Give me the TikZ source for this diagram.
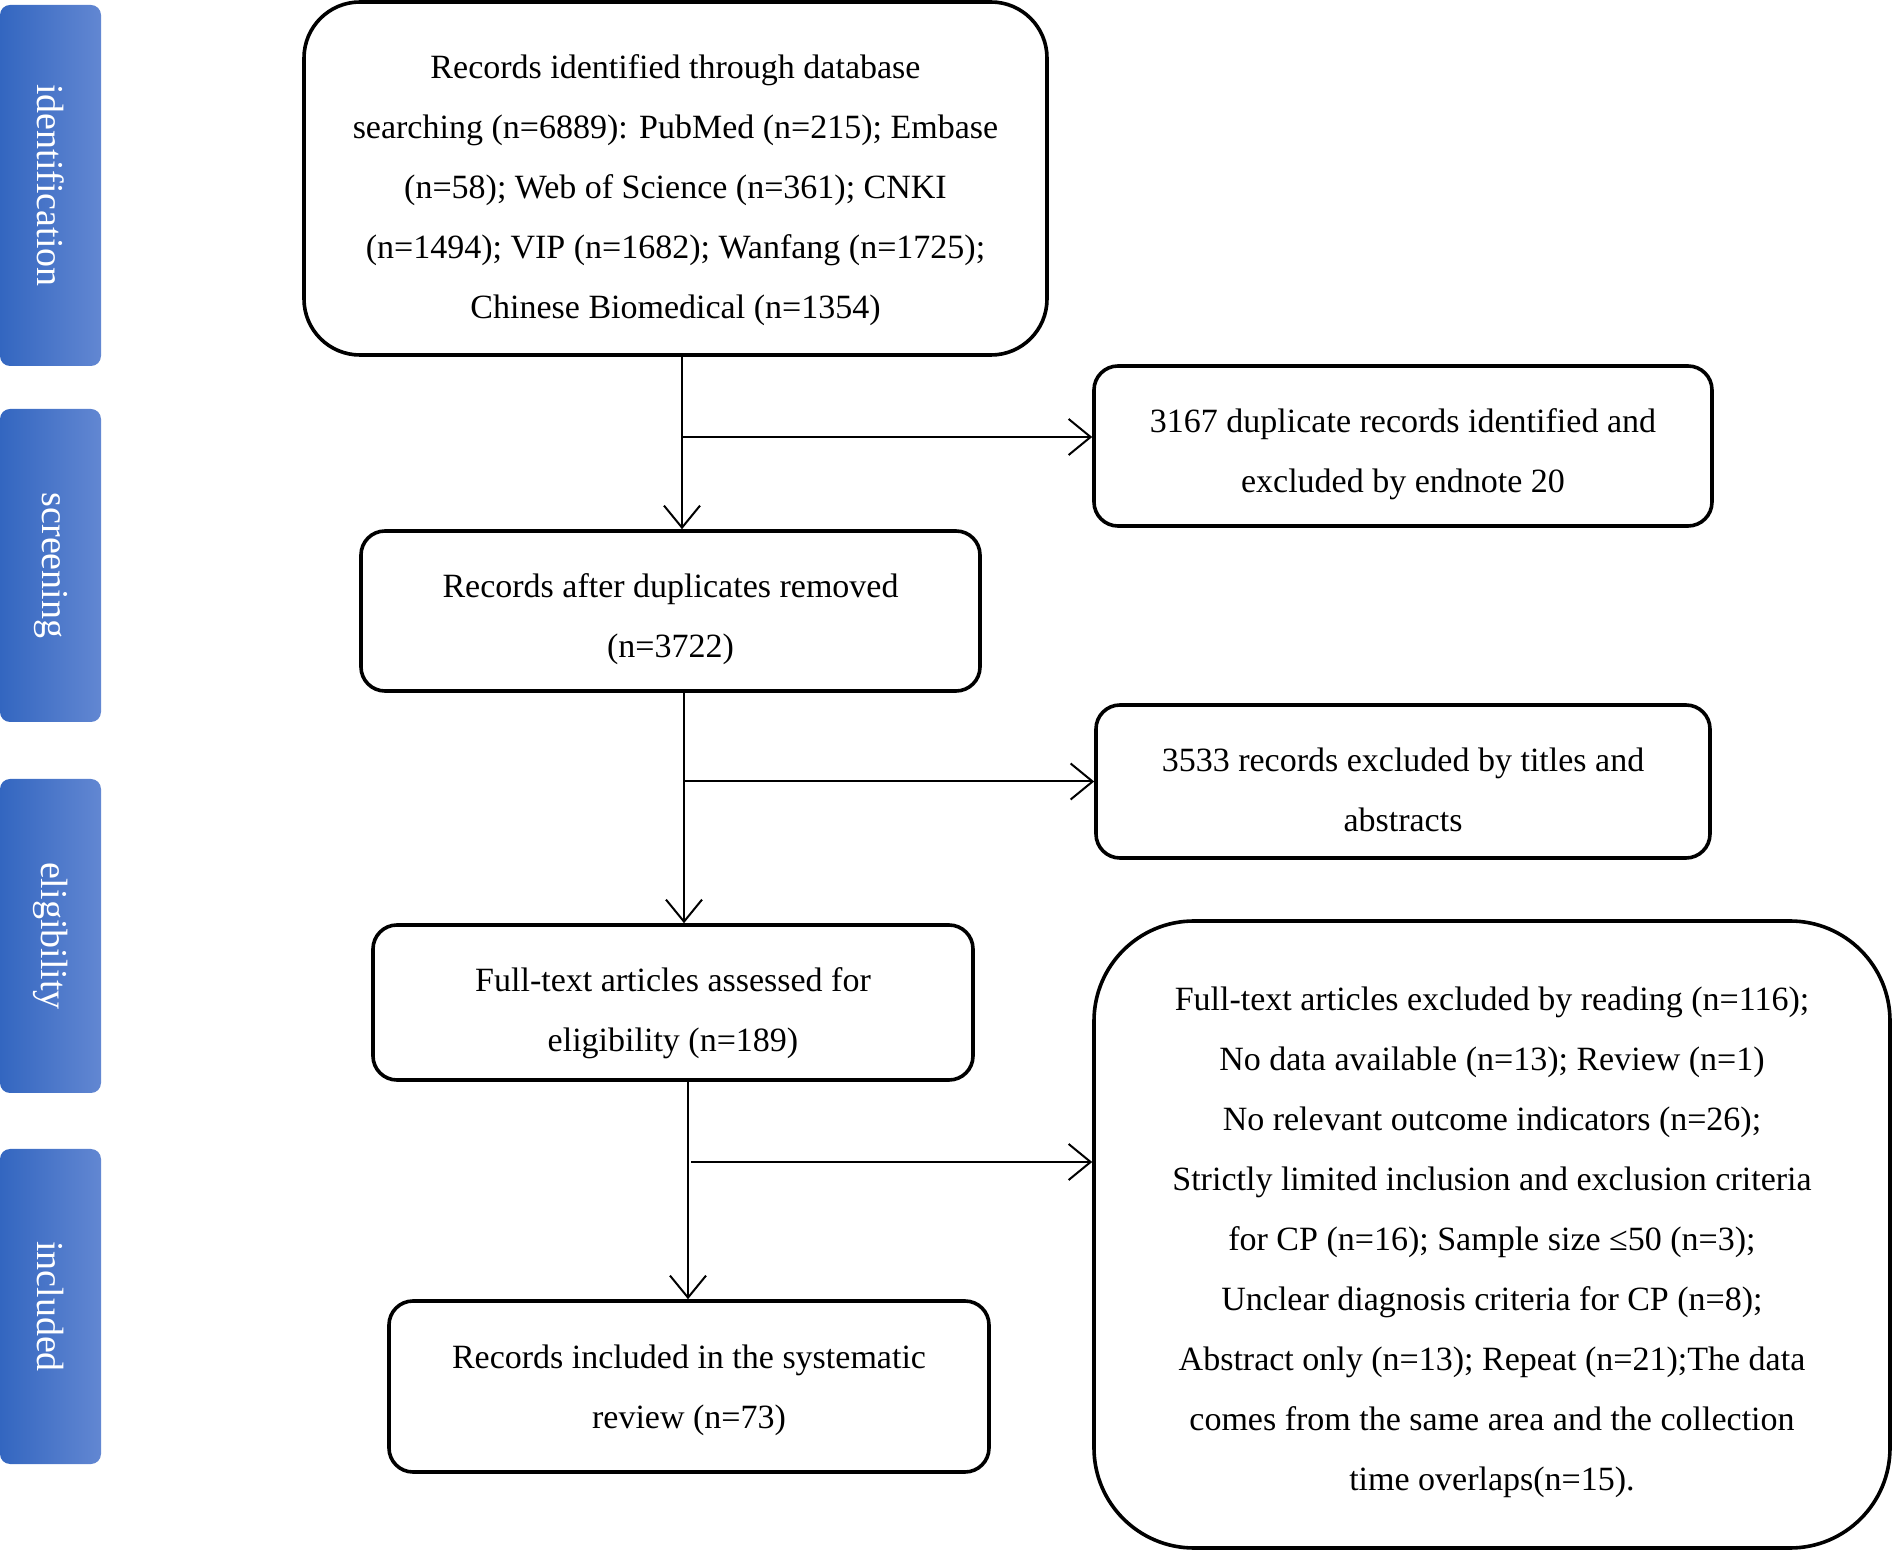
\documentclass[tikz,border=0pt]{standalone}
\usepackage{fontspec}
\setmainfont{Liberation Serif}
\usetikzlibrary{positioning,arrows.meta,calc}
\definecolor{tabl}{HTML}{3366C0}
\definecolor{tabr}{HTML}{6287D2}
\tikzset{my node/.style={draw,line width=1.8pt,rounded corners=#1,align=center,inner sep=0pt,text depth=0pt,font=\fontsize{17}{30}\selectfont},
my node/.default=12pt,
my tab/.style={rounded corners=5pt,left color=tabl,right color=tabr,text=white,inner sep=0pt,minimum width=50.5pt,minimum height=#1,font=\fontsize{19}{22}\selectfont},
my arrow/.style={-{Straight Barb[length=11pt,width=18pt,line width=1pt]},line width=1pt}}

\begin{document}
\begin{tikzpicture}[x=0.5pt,y=-0.5pt]
\useasboundingbox (0,0) rectangle (1892,1550);
% stage tabs
\node[my tab=180.5pt] (identification) at (50.5,185.5) {\rotatebox{-90}{identification}};
\node[my tab=156.5pt] (screening) at (50.5,565.5) {\rotatebox{-90}{screening}};
\node[my tab=157pt] (eligibility) at (50.5,936) {\rotatebox{-90}{eligibility}};
\node[my tab=157.5pt] (included) at (50.5,1306.5) {\rotatebox{-90}{included}};
% main column
\node[my node=28pt,text height=140.4pt,minimum width=371.5pt,minimum height=176.5pt] (search) at (675.5,178.5) {Records identified through database\\ searching (n=6889): PubMed (n=215); Embase\\ (n=58); Web of Science (n=361); CNKI\\ (n=1494); VIP (n=1682); Wanfang (n=1725);\\ Chinese Biomedical (n=1354)};
\node[my node,text height=46.8pt,minimum width=309.5pt,minimum height=80pt] (after) at (670.5,611) {Records after duplicates removed\\ (n=3722)};
\node[my node,text height=49.2pt,minimum width=300pt,minimum height=77.5pt] (fulltext) at (673,1002.5) {Full-text articles assessed for\\ eligibility (n=189)};
\node[my node,minimum width=300pt,minimum height=85.5pt] (review) at (689,1386.5) {Records included in the systematic\\ review (n=73)};
% exclusions
\node[my node,text height=46.8pt,minimum width=309pt,minimum height=80pt] (dup) at (1403,446) {3167 duplicate records identified and\\ excluded by endnote 20};
\node[my node,text height=50.4pt,minimum width=307pt,minimum height=76.5pt] (titles) at (1403,781.5) {3533 records excluded by titles and\\ abstracts};
\node[my node=50pt,text height=255.6pt,minimum width=398pt,minimum height=313.5pt] (excl) at (1492,1234.5) {Full-text articles excluded by reading (n=116);\\ No data available (n=13); Review (n=1)\\ No relevant outcome indicators (n=26);\\ Strictly limited inclusion and exclusion criteria\\ for CP (n=16); Sample size ≤50 (n=3);\\ Unclear diagnosis criteria for CP (n=8);\\ Abstract only (n=13); Repeat (n=21);The data\\ comes from the same area and the collection\\ time overlaps(n=15).};
% connectors
\coordinate (s1) at ([xshift=3.25pt]search.south);
\coordinate (d1) at ([yshift=4.5pt]dup.west);
\draw[my arrow] (s1) -- (s1 |- after.north);
\draw[my arrow] (s1 |- d1) -- (d1);
\coordinate (s2) at ([xshift=6.75pt]after.south);
\draw[my arrow] (s2) -- (s2 |- fulltext.north);
\draw[my arrow] (s2 |- titles.west) -- (titles.west);
\coordinate (s3) at ([xshift=7.5pt]fulltext.south);
\coordinate (d3) at ([yshift=36.25pt]excl.west);
\draw[my arrow] (s3) -- (s3 |- review.north);
\draw[my arrow] ([xshift=1.5pt]s3 |- d3) -- (d3);
\end{tikzpicture}
\end{document}
